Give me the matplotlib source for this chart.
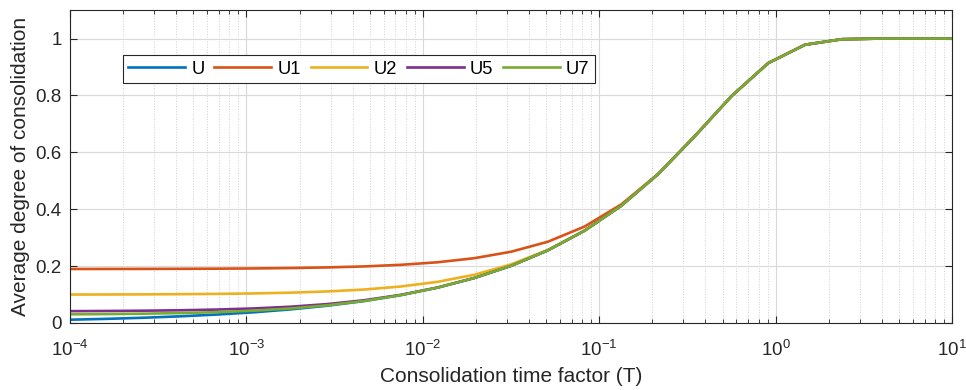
import matplotlib
matplotlib.use("Agg")
import matplotlib.pyplot as plt
from matplotlib.ticker import LogLocator, NullFormatter

plt.rcParams['font.family'] = ['Liberation Sans', 'DejaVu Sans']

T = [1.000e-4, 1.616e-4, 2.610e-4, 4.217e-4, 6.813e-4, 1.101e-3, 1.778e-3,
     2.873e-3, 4.642e-3, 7.499e-3, 1.212e-2, 1.957e-2, 3.162e-2, 5.109e-2,
     8.254e-2, 0.1334, 0.2154, 0.3481, 0.5623, 0.9085, 1.468, 2.371, 3.831,
     6.190, 10.0]

tail = [0.6566, 0.7976, 0.9138, 0.9783, 0.9977, 0.9999, 1.0, 1.0]
U = [0.0113, 0.0143, 0.0182, 0.0232, 0.0295, 0.0374, 0.0476, 0.0605, 0.0769,
     0.0977, 0.1242, 0.1579, 0.2007, 0.2551, 0.3242, 0.4121, 0.5229] + tail
U1 = [0.1896, 0.1898, 0.1900, 0.1903, 0.1908, 0.1916, 0.1930, 0.1952, 0.1987,
      0.2043, 0.2133, 0.2276, 0.2503, 0.2854, 0.3388, 0.4168, 0.5236] + tail
U2 = [0.0998, 0.1000, 0.1004, 0.1011, 0.1021, 0.1037, 0.1064, 0.1107, 0.1174,
      0.1280, 0.1445, 0.1693, 0.2057, 0.2565, 0.3244, 0.4121, 0.5229] + tail
U5 = [0.0414, 0.0420, 0.0430, 0.0445, 0.0470, 0.0509, 0.0570, 0.0662, 0.0797,
      0.0987, 0.1244, 0.1579, 0.2007, 0.2551, 0.3242, 0.4121, 0.5229] + tail
U7 = [0.0303, 0.0311, 0.0325, 0.0346, 0.0379, 0.0431, 0.0508, 0.0619, 0.0773,
      0.0978, 0.1242, 0.1579, 0.2007, 0.2551, 0.3242, 0.4121, 0.5229] + tail

series = [("U", U, "#0072BD"), ("U1", U1, "#D95319"), ("U2", U2, "#EDB120"),
          ("U5", U5, "#7E2F8E"), ("U7", U7, "#77AC30")]

yticks = [0, 0.2, 0.4, 0.6, 0.8, 1]
ytick_labels = ["0", "0.2", "0.4", "0.6", "0.8", "1"]
xticks = [1e-4, 1e-3, 1e-2, 1e-1, 1e0, 1e1]
xtick_labels = [r"$\mathregular{10^{-4}}$", r"$\mathregular{10^{-3}}$",
                r"$\mathregular{10^{-2}}$", r"$\mathregular{10^{-1}}$",
                r"$\mathregular{10^{0}}$", r"$\mathregular{10^{1}}$"]

fig = plt.figure(figsize=(9.66, 3.90), dpi=100)
ax = fig.add_axes([0.0725, 0.172, 0.913, 0.802])

for name, vals, col in series:
    ax.plot(T, vals, color=col, lw=1.9, label=name)

ax.set_xscale("log")
ax.set_xlim(1e-4, 10)
ax.set_ylim(0, 1.1)
ax.set_xticks(xticks)
ax.set_xticklabels(xtick_labels)
ax.xaxis.set_minor_locator(LogLocator(base=10, subs=range(2, 10), numticks=20))
ax.xaxis.set_minor_formatter(NullFormatter())
ax.set_yticks(yticks)
ax.set_yticklabels(ytick_labels)

ax.grid(True, which="major", color="#d9d9d9", lw=0.8, ls="-")
ax.grid(True, which="minor", axis="x", color="#cfcfcf", lw=0.7, ls=":")
ax.set_axisbelow(True)

ax.tick_params(which="both", direction="in", top=True, right=True,
               color="#262626", labelsize=13.5, labelcolor="#262626")
ax.tick_params(which="major", length=5, width=0.8)
ax.tick_params(which="minor", length=3, width=0.6)
ax.tick_params(axis="x", pad=12)
ax.tick_params(axis="y", pad=6)
for s in ax.spines.values():
    s.set_color("#262626")
    s.set_linewidth(0.8)

ax.set_xlabel("Consolidation time factor (T)", fontsize=15, color="#262626", labelpad=5)
ax.set_ylabel("Average degree of consolidation", fontsize=15, color="#262626", labelpad=4)

leg = ax.legend(loc="upper left", bbox_to_anchor=(0.060, 0.856), ncol=5,
                fontsize=13.2, frameon=True, fancybox=False, framealpha=1,
                handlelength=3.1, handletextpad=0.32, columnspacing=0.55,
                borderpad=0.3, borderaxespad=0)
leg.get_frame().set_edgecolor("#262626")
leg.get_frame().set_linewidth(0.8)

fig.savefig("out.png", dpi=100)
